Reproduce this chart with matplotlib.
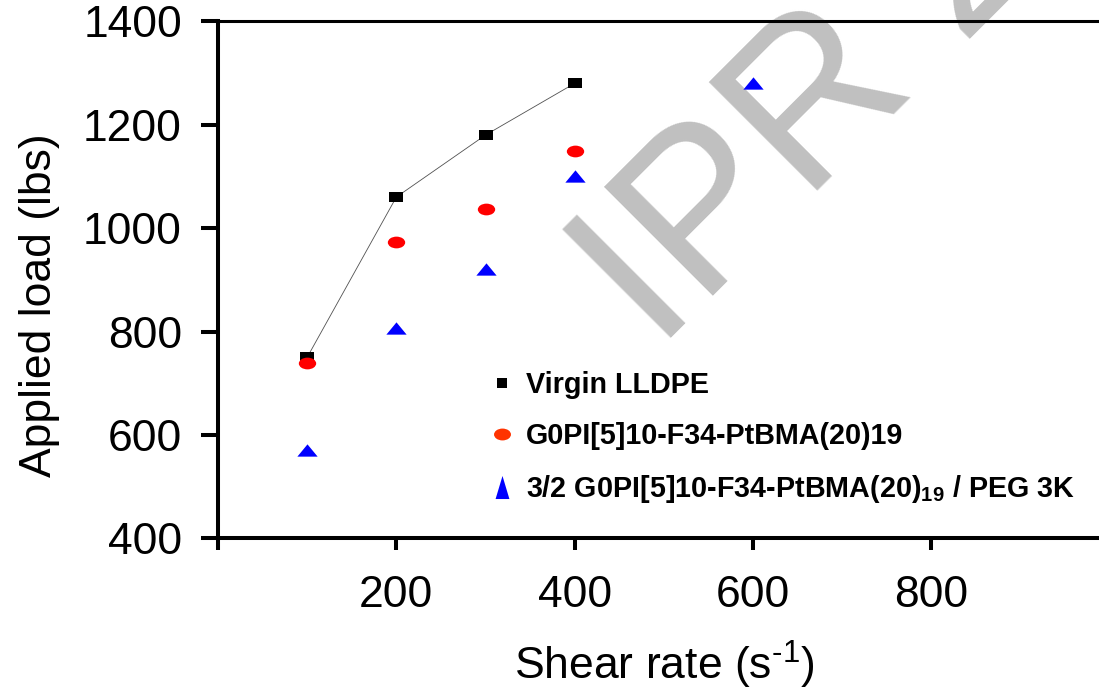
import matplotlib
matplotlib.use("Agg")
import matplotlib.pyplot as plt
from matplotlib.lines import Line2D
from matplotlib.path import Path

# data
shear_virgin = [100, 200, 300, 400]
load_virgin = [750, 1060, 1180, 1280]

shear_g0pi = [100, 200, 300, 400]
load_g0pi = [740, 973, 1036, 1150]

shear_blend = [100, 200, 300, 400, 600]
load_blend = [570, 806, 920, 1100, 1280]

x_ticks = [0, 200, 400, 600, 800]
x_tick_labels = ["", "200", "400", "600", "800"]
y_ticks = [400, 600, 800, 1000, 1200, 1400]

labels = ["Virgin LLDPE",
          "G0PI[5]10-F34-PtBMA(20)19",
          "3/2 G0PI[5]10-F34-PtBMA(20)$_{19}$ / PEG 3K"]

plt.rcParams["font.family"] = ["Liberation Sans", "DejaVu Sans"]
plt.rcParams["mathtext.fontset"] = "custom"
plt.rcParams["mathtext.rm"] = "Liberation Sans"
plt.rcParams["mathtext.default"] = "regular"


def make_markers():
    """Wide square, ellipse and triangle shapes like the original."""
    rect = Path([(-1, -0.75), (1, -0.75), (1, 0.75), (-1, 0.75), (-1, -0.75)],
                closed=True)
    circ = Path.unit_circle()
    ellipse = Path(circ.vertices * [1, 0.676], circ.codes)
    ellipse_leg = Path(circ.vertices * [1, 0.7], circ.codes)
    tri = Path([(0, 0.606), (-1, -0.606), (1, -0.606), (0, 0.606)], closed=True)
    tri_leg = Path([(0, 1), (-0.6, -1), (0.6, -1), (0, 1)], closed=True)
    return rect, ellipse, ellipse_leg, tri, tri_leg


def main():
    rect, ellipse, ellipse_leg, tri, tri_leg = make_markers()

    fig = plt.figure(figsize=(10.99, 6.91), dpi=100)
    ax = fig.add_axes([0.19836, 0.22098, 0.81138, 0.7482])
    ax.patch.set_visible(False)

    # watermark behind everything (cut off at the top edge like the original)
    fig.text(0.5977, 0.4913, "IPR 2", rotation=45, rotation_mode="anchor",
             ha="left", va="baseline", fontsize=160, color="#C0C0C0",
             family="Liberation Sans", zorder=-5)

    ax.plot(shear_virgin, load_virgin, "-", color="#505050", lw=0.6, zorder=2)
    ax.plot(shear_virgin, load_virgin, ls="none", marker=rect, ms=10.3,
            color="black", mew=0, zorder=3)
    ax.plot(shear_g0pi, load_g0pi, ls="none", marker=ellipse, ms=12.5,
            color="#FF0000", mew=0, zorder=3)
    ax.plot(shear_blend, load_blend, ls="none", marker=tri, ms=14.6,
            color="#0000FF", mew=0, zorder=3)

    ax.set_xlim(0, 1000)
    ax.set_ylim(400, 1400)
    ax.set_xticks(x_ticks)
    ax.set_xticklabels(x_tick_labels)
    ax.set_yticks(y_ticks)

    ax.spines["right"].set_visible(False)
    ax.spines["left"].set_linewidth(2.9)
    ax.spines["bottom"].set_linewidth(2.9)
    ax.spines["top"].set_linewidth(2.2)
    ax.tick_params(axis="x", direction="out", length=8.4, width=2.9,
                   pad=18, labelsize=32)
    ax.tick_params(axis="y", direction="out", length=12, width=2.9,
                   pad=14, labelsize=32)

    ax.set_xlabel("Shear rate (s$^{\\text{-1}}$)", fontsize=32)
    ax.set_ylabel("Applied load (lbs)", fontsize=32)
    ax.xaxis.set_label_coords(0.5, -0.195)
    ax.yaxis.set_label_coords(-0.177, 0.451)

    handles = [
        Line2D([], [], ls="none", marker="s", ms=7.9, color="black", mew=0),
        Line2D([], [], ls="none", marker=ellipse_leg, ms=12.2,
               color="#FF3300", mew=0),
        Line2D([], [], ls="none", marker=tri_leg, ms=16.6,
               color="#0000FF", mew=0),
    ]
    ax.legend(handles, labels, loc="upper left", bbox_to_anchor=(0.3028, 0.3236),
              frameon=False, prop={"family": "Liberation Sans",
                                   "weight": "bold", "size": 20.7},
              handlelength=1.0, handletextpad=0.32, labelspacing=0.8,
              borderpad=0, borderaxespad=0)

    fig.savefig("out.png", dpi=100)


main()
